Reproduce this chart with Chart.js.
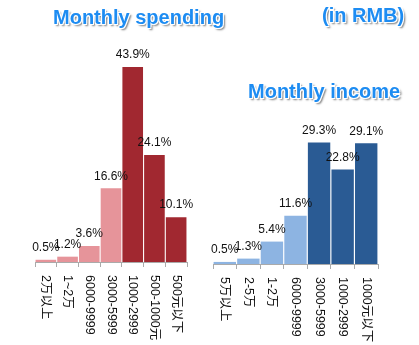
<!DOCTYPE html>
<html>
<head>
<meta charset="utf-8">
<script src="https://cdn.jsdelivr.net/npm/chart.js@4.4.0/dist/chart.umd.js"></script>
<style>
    html, body { margin: 0; padding: 0; background: #fff; }
    body { width: 419px; height: 345px; position: relative; overflow: hidden; font-family: "Liberation Sans", "Noto Sans CJK SC", sans-serif; }
    .box { position: absolute; top: 0; height: 345px; }
    .ttl { position: absolute; font: bold 20px "Liberation Sans", "DejaVu Sans", sans-serif; color: #1d8cf2; white-space: nowrap;
           text-shadow: -1px -1px 0 #fff, 1px -1px 0 #fff, -1px 1px 0 #fff, 1px 1px 0 #fff, 2px 2px 2px #777; }
</style>
</head>
<body>
<div class="box" style="left:0;width:210px;"><canvas id="spend"></canvas></div>
<div class="box" style="left:205px;width:214px;"><canvas id="income"></canvas></div>
<div class="ttl" style="left:53px;top:6px;">Monthly spending</div>
<div class="ttl" style="left:322px;top:4px;">(in RMB)</div>
<div class="ttl" style="left:248px;top:80px;">Monthly income</div>
<script>
const spendLabels = ['2万以上', '1~2万', '6000-9999', '3000-5999', '1000-2999', '500-1000元', '500元以下'];
const spendValues = [0.5, 1.2, 3.6, 16.6, 43.9, 24.1, 10.1];
const incomeLabels = ['5万以上', '2-5万', '1-2万', '6000-9999', '3000-5999', '1000-2999', '1000元以下'];
const incomeValues = [0.5, 1.3, 5.4, 11.6, 29.3, 22.8, 29.1];

const barText = {
    id: 'barText',
    afterDatasetsDraw(chart) {
        const ctx = chart.ctx, meta = chart.getDatasetMeta(0), x = chart.scales.x;
        const vals = chart.data.datasets[0].data, labels = chart.data.labels;
        ctx.save();
        ctx.fillStyle = '#111';
        ctx.font = '12px "Liberation Sans", "Noto Sans CJK SC", sans-serif';
        ctx.textAlign = 'center'; ctx.textBaseline = 'bottom';
        meta.data.forEach((bar, i) => ctx.fillText(vals[i].toFixed(1) + '%', bar.x, bar.y - 6));
        ctx.font = '12.5px "Liberation Sans", "Noto Sans CJK SC", sans-serif';
        ctx.textAlign = 'left'; ctx.textBaseline = 'middle';
        labels.forEach((l, i) => {
            ctx.save();
            ctx.translate(x.getPixelForValue(i), chart.chartArea.bottom + 13);
            ctx.rotate(Math.PI / 2);
            ctx.fillText(l, 0, 0);
            ctx.restore();
        });
        ctx.restore();
    }
};

function makeChart(id, labels, values, light, dark, max, pad) {
    return new Chart(document.getElementById(id), {
        type: 'bar',
        data: { labels, datasets: [{ data: values, backgroundColor: values.map((v, i) => i < 4 ? light : dark),
            categoryPercentage: 1, barPercentage: 0.95 }] },
        options: {
            responsive: true, maintainAspectRatio: false, animation: false,
            layout: { padding: pad },
            plugins: { legend: { display: false }, tooltip: { enabled: false } },
            scales: {
                x: { grid: { offset: true, drawOnChartArea: false, tickLength: 5, color: '#aaa' },
                     border: { color: '#aaa' }, ticks: { display: false } },
                y: { display: false, min: 0, max },
            },
        },
        plugins: [barText],
    });
}

makeChart('spend', spendLabels, spendValues, '#e6949a', '#a12830', 50, { left: 35, right: 23, top: 40, bottom: 78 });
makeChart('income', incomeLabels, incomeValues, '#8db4e2', '#2a5b94', 40, { left: 8, right: 41, top: 98, bottom: 76 });
</script>
</body>
</html>
